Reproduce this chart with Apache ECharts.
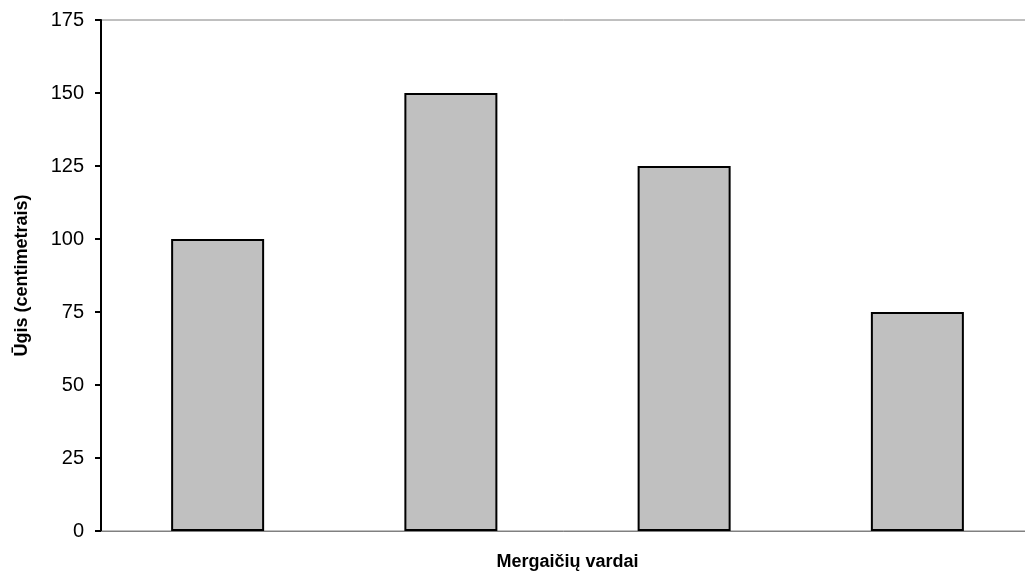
<!DOCTYPE html>
<html>
<head>
<meta charset="utf-8">
<script src="https://cdn.jsdelivr.net/npm/echarts@6/dist/echarts.min.js"></script>
<style>html,body{margin:0;padding:0;background:#fff}#c{width:1025px;height:575px}</style>
</head>
<body>
<div id="c"></div>
<script>
const categories = ['1', '2', '3', '4'];
const heights = [100, 150, 125, 75];
const yTicks = [0, 25, 50, 75, 100, 125, 150, 175];
const xTitle = 'Mergaičių vardai';
const yTitle = 'Ūgis (centimetrais)';

const chart = echarts.init(document.getElementById('c'));
chart.setOption({
  animation: false,
  backgroundColor: '#fff',
  grid: { left: 101, top: 20, width: 933, height: 511, outerBoundsMode: 'none', containLabel: false, show: true, borderColor: '#808080', borderWidth: 1, backgroundColor: 'transparent' },
  xAxis: {
    type: 'category',
    data: categories,
    name: xTitle,
    nameLocation: 'middle',
    nameGap: 22,
    nameTextStyle: { fontFamily: 'Liberation Sans, Arial', fontWeight: 'bold', fontSize: 18, color: '#000' },
    axisLine: { lineStyle: { color: '#808080', width: 1 } },
    axisTick: { show: false },
    axisLabel: { show: false },
    splitLine: { show: false }
  },
  yAxis: {
    type: 'value',
    min: yTicks[0], max: yTicks[yTicks.length - 1], interval: yTicks[1] - yTicks[0],
    name: yTitle,
    nameLocation: 'middle',
    nameGap: 70,
    nameRotate: 90,
    nameTextStyle: { fontFamily: 'Liberation Sans, Arial', fontWeight: 'bold', fontSize: 18, color: '#000' },
    axisLine: { show: true, lineStyle: { color: '#000', width: 2 } },
    axisTick: { show: true, length: 6, lineStyle: { color: '#000', width: 2 } },
    axisLabel: { margin: 17, fontFamily: 'Liberation Sans, Arial', fontSize: 20, color: '#000' },
    splitLine: { show: false }
  },
  series: [{
    type: 'bar',
    data: heights,
    barWidth: 93,
    itemStyle: { color: '#C0C0C0', borderColor: '#000', borderWidth: 2 }
  }]
});
</script>
</body>
</html>
